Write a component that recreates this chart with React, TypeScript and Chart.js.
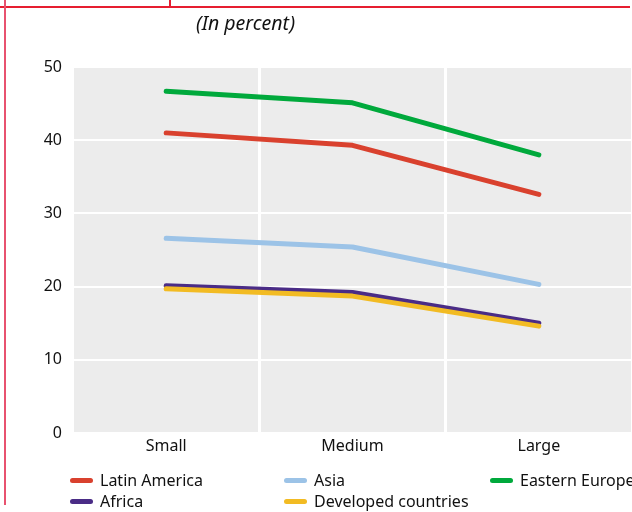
import React, { useEffect, useRef } from "react";
import { Chart, registerables } from "chart.js";

Chart.register(...registerables);

const categories = ["Small", "Medium", "Large"];
const latinAmerica = [41.0, 39.3, 32.6];
const asia = [26.6, 25.4, 20.3];
const easternEurope = [46.7, 45.1, 38.0];
const africa = [20.1, 19.2, 15.0];
const developed = [19.7, 18.7, 14.6];
const yTicks = [0, 10, 20, 30, 40, 50];

const FONT = "'Noto Sans', sans-serif";

const legendItems = [
  { label: "Latin America", color: "#d9412e", x: 70, y: 480 },
  { label: "Asia", color: "#9cc3e7", x: 284, y: 480 },
  { label: "Eastern Europe", color: "#00a93c", x: 490, y: 480 },
  { label: "Africa", color: "#4a2c86", x: 70, y: 501 },
  { label: "Developed countries", color: "#f2bb23", x: 284, y: 501 },
];

const bgPlugin = {
  id: "plotBg",
  beforeDraw(chart: any) {
    const { ctx, chartArea } = chart;
    ctx.save();
    ctx.fillStyle = "#ececec";
    ctx.fillRect(chartArea.left, chartArea.top, chartArea.right - chartArea.left, chartArea.bottom - chartArea.top);
    ctx.restore();
  },
};

export default function App() {
  const ref = useRef<HTMLCanvasElement | null>(null);
  useEffect(() => {
    if (!ref.current) return;
    const mk = (label: string, data: number[], color: string, order: number) => ({
      label,
      data,
      borderColor: color,
      backgroundColor: color,
      borderWidth: 5,
      borderCapStyle: "round" as const,
      borderJoinStyle: "round" as const,
      pointRadius: 0,
      tension: 0,
      order,
    });
    const chart = new Chart(ref.current, {
      type: "line",
      data: {
        labels: categories,
        datasets: [
          mk("Latin America", latinAmerica, "#d9412e", 3),
          mk("Asia", asia, "#9cc3e7", 2),
          mk("Eastern Europe", easternEurope, "#00a93c", 1),
          mk("Africa", africa, "#4a2c86", 4),
          mk("Developed countries", developed, "#f2bb23", 0),
        ],
      },
      options: {
        animation: false,
        responsive: false,
        maintainAspectRatio: false,
        layout: { padding: { top: 67, right: 0, left: 0, bottom: 0 } },
        plugins: { legend: { display: false }, tooltip: { enabled: false }, title: { display: false } },
        scales: {
          x: {
            type: "category",
            offset: true,
            grid: { offset: true, color: "#ffffff", lineWidth: 3, drawTicks: false },
            border: { display: false },
            ticks: { color: "#111", font: { family: FONT, size: 16 }, padding: 4 },
            afterFit(scale: any) {
              scale.height = 512 - 433;
            },
          },
          y: {
            min: 0,
            max: 50,
            afterBuildTicks(scale: any) {
              scale.ticks = yTicks.map((v) => ({ value: v }));
            },
            grid: { color: "#ffffff", lineWidth: 2, drawTicks: false },
            border: { display: false },
            ticks: { color: "#111", font: { family: FONT, size: 16 }, padding: 11 },
            afterFit(scale: any) {
              scale.width = 73;
            },
          },
        },
      },
      plugins: [bgPlugin],
    });
    return () => chart.destroy();
  }, []);

  return (
    <div style={{ position: "absolute", left: 0, top: 0, width: 632, height: 512, background: "#fff", overflow: "hidden", fontFamily: FONT }}>
      <canvas ref={ref} width={632} height={512} style={{ position: "absolute", left: 0, top: 0, width: 632, height: 512 }} />
      <div style={{ position: "absolute", left: 0, top: 6, width: 630, height: 2, background: "#e61e30" }} />
      <div style={{ position: "absolute", left: 4, top: 0, width: 2, height: 505, background: "#e8526f" }} />
      <div style={{ position: "absolute", left: 169, top: 0, width: 2, height: 7, background: "#e61e30" }} />
      <div style={{ position: "absolute", left: 196, top: 10, fontStyle: "italic", fontSize: 19.5, color: "#111", whiteSpace: "nowrap", lineHeight: "26px" }}>
        (In percent)
      </div>
      {legendItems.map((it) => (
        <div key={it.label} style={{ position: "absolute", left: it.x, top: it.y - 10, height: 20, display: "flex", alignItems: "center", whiteSpace: "nowrap" }}>
          <span style={{ display: "inline-block", width: 23, height: 5, borderRadius: 3, background: it.color, marginRight: 7 }} />
          <span style={{ fontSize: 16, color: "#111" }}>{it.label}</span>
        </div>
      ))}
    </div>
  );
}
